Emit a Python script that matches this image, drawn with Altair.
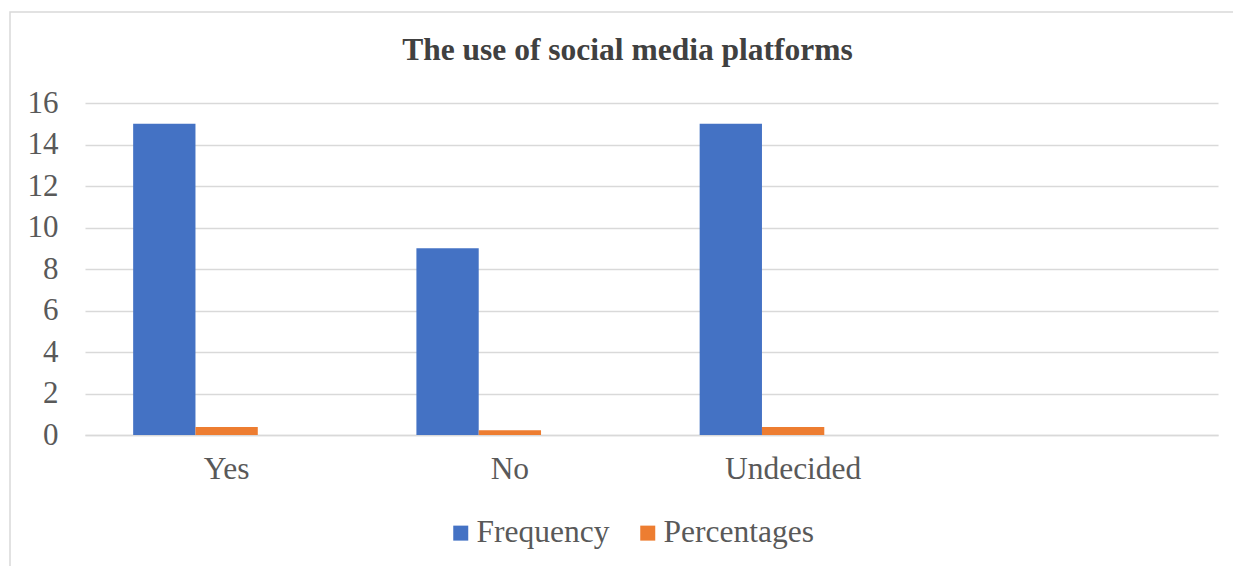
import altair as alt
import pandas as pd

categories = ["Yes", "No", "Undecided"]
frequency = [15, 9, 15]
percentages = [0.38, 0.23, 0.38]
series = ["Frequency", "Percentages"]
colors = ["#4472C4", "#ED7D31"]
y_ticks = [0, 2, 4, 6, 8, 10, 12, 14, 16]

rows = []
for c, f, p in zip(categories, frequency, percentages):
    rows.append({"category": c, "series": "Frequency", "value": f})
    rows.append({"category": c, "series": "Percentages", "value": p})
df = pd.DataFrame(rows)

cat_domain = categories + [" "]
offset_domain = series + ["  "]
FONT = "Liberation Serif"
TXT = "#595959"
GRID = "#D9D9D9"

bars = alt.Chart(df).mark_bar().encode(
    x=alt.X(
        "category:N",
        sort=cat_domain,
        scale=alt.Scale(domain=cat_domain, paddingInner=0.34, paddingOuter=0.17),
        axis=alt.Axis(title=None, labelAngle=0, ticks=False, domainColor=GRID,
                      domainWidth=1.5, labelPadding=18, labelFontSize=31.5,
                      labelFont=FONT, labelColor=TXT),
    ),
    xOffset=alt.XOffset(
        "series:N",
        scale=alt.Scale(domain=offset_domain, paddingInner=0, paddingOuter=0),
    ),
    y=alt.Y(
        "value:Q",
        scale=alt.Scale(domain=[0, 16], nice=False),
        axis=alt.Axis(title=None, values=y_ticks, ticks=False, domain=False,
                      grid=True, gridColor=GRID, gridWidth=1.5, labelPadding=27,
                      labelFontSize=31, labelFont=FONT, labelColor=TXT),
    ),
    color=alt.Color(
        "series:N",
        scale=alt.Scale(domain=series, range=colors),
        legend=alt.Legend(
            title=None, orient="none", direction="horizontal",
            legendX=360, legendY=414, symbolType="square", symbolSize=225,
            symbolStrokeWidth=0, labelFontSize=31.5, labelFont=FONT,
            labelColor=TXT, labelOffset=0, columnPadding=22,
        ),
    ),
)

frame = alt.Chart(pd.DataFrame({"a": [0]})).mark_rect(
    fillOpacity=0, stroke=GRID, strokeWidth=1.5, clip=False
).encode(
    x=alt.value(-75), x2=alt.value(1170), y=alt.value(-91), y2=alt.value(480)
)

chart = alt.layer(frame, bars).properties(
    width=1133,
    height=332,
    padding={"left": 85, "top": 103, "right": 15, "bottom": 131},
    autosize=alt.AutoSizeParams(type="none"),
    background="white",
    title=alt.Title(
        "The use of social media platforms",
        font=FONT, fontSize=31.5, fontWeight="bold", color="#404040",
        anchor="middle", dx=-24, offset=-55,
    ),
).configure_view(stroke=None)

chart.save("out.html", embed_options={"renderer": "svg", "actions": False})
